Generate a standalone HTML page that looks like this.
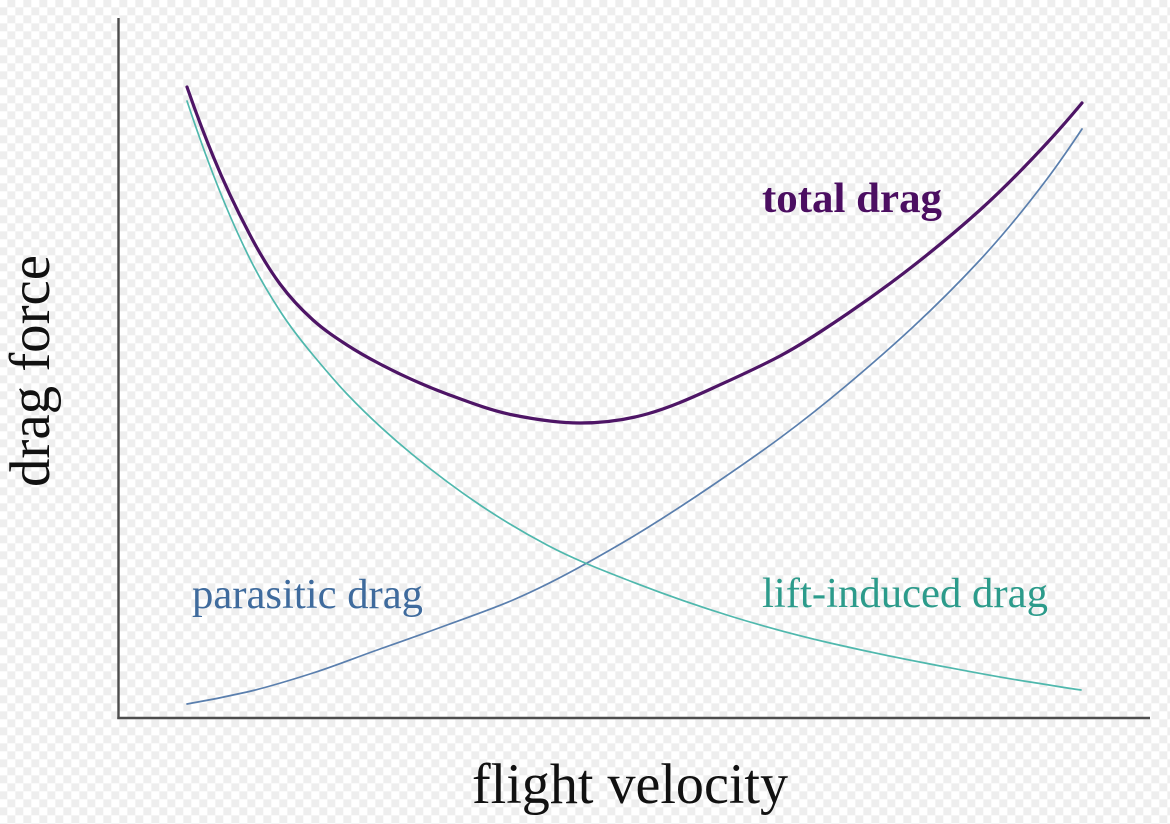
<!DOCTYPE html>
<html>
<head>
<meta charset="utf-8">
<style>
  html, body { margin: 0; padding: 0; }
  body {
    width: 1170px; height: 824px; overflow: hidden;
    background-color: #ffffff;
    background-image: repeating-conic-gradient(#eeeeee 0 25%, #ffffff 0 50%);
    background-size: 16px 16px;
    background-position: -0.7px -0.7px;
  }
  svg { position: absolute; left: 0; top: 0; }
  text { font-family: "Liberation Serif", "Times New Roman", serif; }
</style>
</head>
<body>
<svg width="1170" height="824" viewBox="0 0 1170 824" xmlns="http://www.w3.org/2000/svg">
  <!-- axes -->
  <line x1="118.5" y1="18" x2="118.5" y2="719" stroke="#4d4d4d" stroke-width="2.4"/>
  <line x1="117.3" y1="718" x2="1150" y2="718" stroke="#4d4d4d" stroke-width="2.6"/>

  <!-- parasitic drag -->
  <path fill="none" stroke="#5a7fae" stroke-width="1.7" stroke-linecap="round"
    d="M187,704 C207,700.6 227,696.6 247,692
       C269,686.94 291,680.04 313,673
       C335.33,665.85 357.67,656.82 380,649
       C402.33,641.18 424.67,633.26 447,625
       C469,616.86 491,609.46 513,600
       C537.67,589.39 562.33,576.81 587,563
       C607,551.8 627,540.4 647,528
       C669,514.36 691,499.96 713,485
       C735.33,469.81 757.67,454.53 780,438
       C802.33,421.47 824.67,403.76 847,385
       C869,366.52 891,347.46 913,327
       C935.33,306.23 957.67,284.12 980,260
       C1002.33,235.88 1024.67,208.7 1047,179
       C1058.67,163.48 1070.33,146.5 1082,129"/>

  <!-- lift-induced drag -->
  <path fill="none" stroke="#4fb8ad" stroke-width="1.7" stroke-linecap="round"
    d="M187,101 C195.67,127 204.33,151.47 213,174
       C225.33,206.07 237.67,234.33 250,259
       C260,279 270,295.5 280,311
       C291,328.05 302,341.8 313,355
       C324.33,368.6 335.67,382.1 347,394
       C369,417.1 391,436.96 413,455
       C435.33,473.31 457.67,490.04 480,505
       C502.33,519.96 524.67,533.16 547,545
       C574.67,559.66 602.33,570.21 630,581
       C663.33,594 696.67,605.67 730,616
       C763.33,626.33 796.67,635.33 830,643
       C863.33,650.67 896.67,657.67 930,664
       C963.33,670.33 996.67,677 1030,682
       C1047,684.55 1064,687.62 1081,690"/>

  <!-- total drag -->
  <path fill="none" stroke="#4e1566" stroke-width="3.2" stroke-linecap="round"
    d="M187,87 C195.67,112.13 204.33,134.77 213,156
       C225.33,186.22 237.67,211.57 250,235
       C260,254 270,270.5 280,284
       C291,298.85 302,310.1 313,320
       C324.33,330.2 335.67,337.63 347,345
       C358,352.15 369,358.28 380,364
       C402.33,375.61 424.67,385.74 447,394
       C469,402.14 491,410.6 513,415
       C535.33,419.47 557.67,423 580,423
       C602.33,423 624.67,420.25 647,414
       C669,407.84 691,398.12 713,388
       C735.33,377.73 757.67,367.84 780,356
       C802.33,344.16 824.67,329.19 847,314
       C869,299.04 891,283.16 913,266
       C935.33,248.58 957.67,230.1 980,210
       C1002.33,189.9 1024.67,167.12 1047,143
       C1058.67,130.4 1070.33,117 1082,103"/>

  <!-- labels -->
  <text x="762" y="212" font-size="42" font-weight="bold" fill="#4b0e61" textLength="180" lengthAdjust="spacingAndGlyphs">total drag</text>
  <text x="192" y="608" font-size="42" fill="#3f6b9d" textLength="231" lengthAdjust="spacingAndGlyphs">parasitic drag</text>
  <text x="762" y="607" font-size="42" fill="#2c9b8b" textLength="286" lengthAdjust="spacingAndGlyphs">lift-induced drag</text>

  <text x="472" y="803" font-size="57" fill="#111111" textLength="316" lengthAdjust="spacingAndGlyphs">flight velocity</text>
  <text transform="translate(49,487) rotate(-90)" x="0" y="0" font-size="57" fill="#111111" textLength="232" lengthAdjust="spacingAndGlyphs">drag force</text>
</svg>
</body>
</html>
